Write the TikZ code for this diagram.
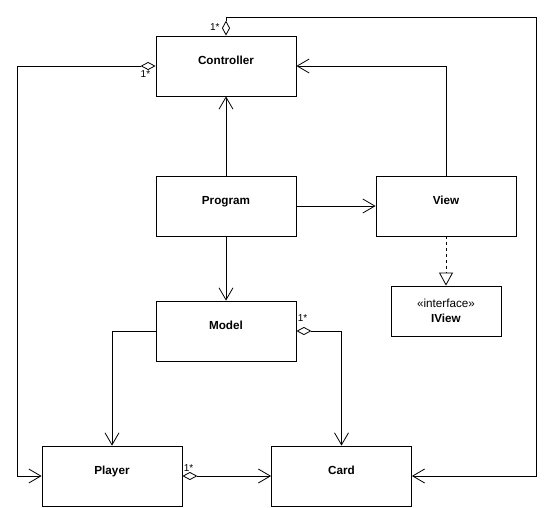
\documentclass[tikz,border=0pt]{standalone}
\usepackage{fontspec}
\setmainfont{Liberation Sans}
\usepackage{tikz}
\usetikzlibrary{arrows.meta}
\tikzset{%
    cls/.style={draw,line width=0.8pt,minimum width=140pt,minimum height=60pt,inner sep=0pt,
        font=\bfseries\fontsize{11.7}{14}\selectfont,text height=8pt,text depth=11pt}
}

\begin{document}
\begin{tikzpicture}[
                x=1pt,y=-1pt,
                assoc/.style={line width=0.8pt,-{Straight Barb[length=12pt,width=14pt]}},
                agg/.style={line width=0.8pt,{Diamond[open,length=15pt,width=8pt]}-{Straight Barb[length=12pt,width=14pt]}},
                real/.style={line width=0.8pt,dash pattern=on 3pt off 3pt,-{Triangle[open,length=13pt,width=14pt]}},
                lbl/.style={font=\fontsize{10}{12}\selectfont,inner sep=1pt}
            ]
            \useasboundingbox (0,0) rectangle (554,507);
            \node[cls] (ctrl) at (226,66){Controller};
            \node[cls] (prog) at (226,206){Program};
            \node[cls] (view) at (446,206){View};
            \node[cls] (model) at (226,331){Model};
            \node[cls] (player) at (112,476){Player};
            \node[cls] (card) at (341.5,476){Card};
            \node[draw,line width=0.8pt,minimum width=110pt,minimum height=50pt,align=center,
                font=\fontsize{11.7}{15}\selectfont] (iview) at (446,311){«interface»\\\textbf{IView}};
            \coordinate (lft) at (17,66);
            \coordinate (rgt) at (536,17);

            \draw[assoc] (prog) -- (ctrl);
            \draw[assoc] (prog) -- (view);
            \draw[assoc] (prog) -- (model);
            \draw[real] (view) -- (iview);
            \draw[assoc] (view.north) |- (ctrl.east);
            \draw[assoc] (model.west) -| (player.north);
            \draw[agg] (model.east) -| node[lbl,pos=0,above right,yshift=8pt]{1*} (card.north);
            \draw[agg] (ctrl.west) -- node[lbl,pos=0,below left,xshift=-4pt,yshift=-3pt]{1*} (lft) |- (player.west);
            \draw[agg] (ctrl.north) -- node[lbl,pos=0,above left,xshift=-5pt,yshift=4pt]{1*} (ctrl.north |- rgt) -- (rgt) |- (card.east);
            \draw[agg] (player) -- node[lbl,pos=0,above right,yshift=3pt]{1*} (card);
        \end{tikzpicture}
\end{document}
